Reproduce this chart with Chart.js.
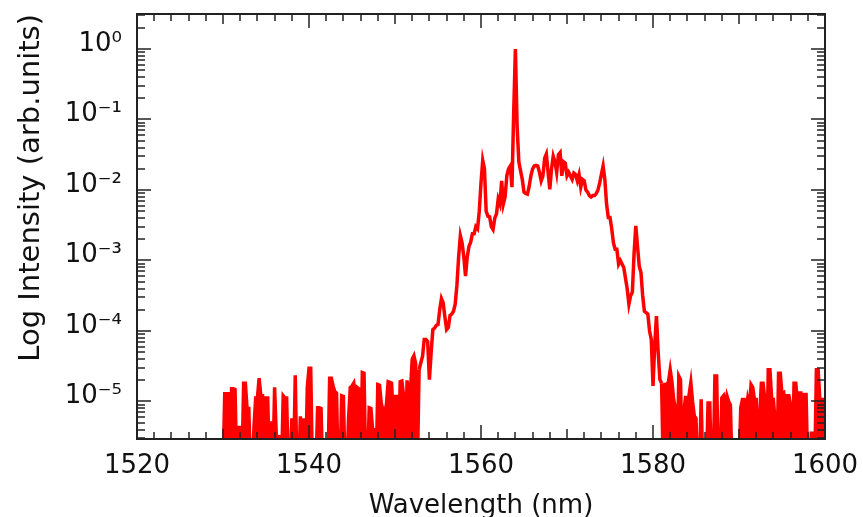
<!DOCTYPE html>
<html>
<head>
<meta charset="utf-8">
<script src="https://cdn.jsdelivr.net/npm/chart.js@4.4.1/dist/chart.umd.min.js"></script>
<style>
  html, body { margin: 0; padding: 0; background: #fff; }
</style>
</head>
<body>
<canvas id="spectrum" width="863" height="517"></canvas>
<script>
// sampling of the measured spectrum (nm)
const sampleStep = 0.2;

// log10 of intensity, one row per nm (x.0 x.2 x.4 x.6 x.8); -6 = below noise floor
const noiseLeftStart = 1530;
const noiseLeftLog = [
  -6, -4.89, -4.89, -4.89, -6,
  -4.82, -4.82, -4.83, -6, -5.37,
  -5.37, -6, -4.74, -4.74, -5.1,
  -5.1, -6, -6, -5.37, -4.95,
  -4.95, -4.67, -4.92, -4.92, -6,
  -4.95, -4.95, -6, -5.28, -6,
  -4.8, -5.5, -5.5, -5.5, -6,
  -4.92, -4.95, -4.95, -6, -6,
  -5.24, -6, -4.63, -6, -6,
  -5.21, -6, -5.24, -6, -4.8,
  -4.53, -4.53, -6, -6, -6,
  -5.09, -5.09, -5.1, -6, -6,
  -6, -6, -4.67, -4.67, -4.78,
  -4.86, -4.88, -6, -6, -4.92,
  -4.93, -6, -6, -5.24, -4.8,
  -4.78, -4.74, -5.0, -4.8, -4.82,
  -6, -4.59, -4.6, -6, -6,
  -5.09, -5.1, -5.4, -5.4, -6,
  -4.76, -4.77, -5.02, -5.13, -5.14,
  -5.05, -4.72, -4.73, -4.74, -5.24,
  -4.93, -4.93, -6, -4.72, -4.71,
  -4.92, -6, -4.7, -4.95, -4.85,
  -4.4, -4.35, -4.46, -6, -4.55
];

const bandStart = 1553;
const bandLog = [
  -4.45, -4.36, -4.12, -4.12, -4.15,
  -4.69, -4.31, -3.98, -3.96, -3.92,
  -3.91, -3.7, -3.54, -3.6, -3.8,
  -3.98, -3.95, -3.78, -3.76, -3.72,
  -3.62, -3.35, -2.95, -2.65, -2.75,
  -2.95, -3.22, -2.95, -2.8, -2.74,
  -2.62, -2.62, -2.52, -2.55, -2.3,
  -1.9, -1.58, -1.7, -2.3, -2.37,
  -2.38, -2.52, -2.56, -2.4, -2.34,
  -2.13, -2.2, -1.87, -2.2, -2.1,
  -1.8, -1.7, -1.66, -1.96, -0.9,
  0.0, -1.1, -1.6, -1.73, -1.85,
  -2.03, -2.05, -2.06, -1.95, -1.8,
  -1.7, -1.66, -1.65, -1.66, -1.75,
  -1.87, -1.8, -1.55, -1.49, -1.75,
  -1.99, -1.7, -1.52, -1.6, -1.75,
  -1.5, -1.47, -1.8, -1.6, -1.62,
  -1.8, -1.75, -1.8, -1.85, -1.76,
  -1.78, -1.87, -1.78, -1.96, -1.85,
  -1.87, -2.0, -2.03, -2.08, -2.1,
  -2.08, -2.08, -2.05, -2.0, -1.9,
  -1.78, -1.66, -1.85, -2.2, -2.39,
  -2.39, -2.55, -2.75, -2.84, -2.84,
  -3.05, -3.0, -3.05, -3.1, -3.25,
  -3.4, -3.62, -3.5, -3.45, -2.9,
  -2.51, -2.8, -3.08, -3.17, -3.5,
  -3.72, -3.74, -3.76, -4.0, -4.12,
  -4.78, -4.2, -3.79, -4.3, -4.69,
  -4.74
];

const noiseRightStart = 1581.2;
const noiseRightLog = [
          -6, -4.76, -4.76, -4.72,
  -4.55, -4.72, -4.97, -5.09, -6,
  -4.64, -4.69, -6, -5.13, -4.92,
  -5.26, -4.9, -4.73, -5.0, -5.2,
  -5.24, -6, -6, -4.97, -6,
  -6, -6, -5.02, -5.02, -6,
  -6, -4.64, -4.64, -6, -6,
  -4.95, -4.92, -5.1, -4.92, -5.0,
  -5.05, -6, -6, -6, -6,
  -6, -5.09, -4.97, -4.97, -5.15,
  -4.97, -5.1, -4.76, -4.8, -4.97,
  -4.97, -6, -5.2, -4.74, -4.74,
  -4.97, -6, -4.55, -4.55, -4.97,
  -4.97, -5.28, -6, -4.6, -4.6,
  -4.9, -4.88, -5.13, -4.92, -4.92,
  -5.05, -6, -4.74, -4.74, -5.02,
  -4.88, -4.88, -5.13, -4.9, -4.9,
  -6, -6, -5.45, -5.45, -6,
  -4.55, -4.55, -4.97, -4.97, -4.97,
  -4.97
];

const xTickLabels = [1520, 1540, 1560, 1580, 1600];
const yDecades = [-5, -4, -3, -2, -1, 0];

const axisColor = '#222';
const lineColor = '#ff0000';
const fontFamily = '"DejaVu Sans", sans-serif';

const toPoints = (start, logs) =>
  logs.map((v, i) => ({ x: start + i * sampleStep, y: Math.pow(10, v) }));

const spectrum = [
  ...toPoints(noiseLeftStart, noiseLeftLog),
  ...toPoints(bandStart, bandLog),
  ...toPoints(noiseRightStart, noiseRightLog),
];

// the noise-floor stretches are so densely sampled that they read as solid red
const bandEnd = bandStart + (bandLog.length - 1) * sampleStep;
const inNoise = (x) => x < bandStart - 0.01 || x > bandEnd - 0.01;

const sup = { '0': '⁰', '1': '¹', '2': '²', '3': '³', '4': '⁴', '5': '⁵', '-': '⁻' };
const isDecade = (v) => Math.abs(Math.log10(v) - Math.round(Math.log10(v))) < 1e-6;

// inward ticks on all four sides plus the closed frame
const frameTicks = {
  id: 'frameTicks',
  afterDraw(chart) {
    const { ctx, chartArea: a, scales: { x, y } } = chart;
    ctx.save();
    ctx.strokeStyle = axisColor;
    ctx.lineWidth = 1.5;
    ctx.beginPath();
    for (let v = x.min; v <= x.max; v += 2) {
      const px = Math.round(x.getPixelForValue(v));
      const len = v % 20 === 0 ? 14 : v % 10 === 0 ? 10 : 7;
      ctx.moveTo(px, a.bottom); ctx.lineTo(px, a.bottom - len);
      ctx.moveTo(px, a.top); ctx.lineTo(px, a.top + len);
    }
    for (let e = -6; e <= 0; e++) {
      for (let m = 1; m <= 9; m++) {
        const v = m * Math.pow(10, e);
        if (v < y.min || v > y.max) continue;
        const py = Math.round(y.getPixelForValue(v));
        const len = m === 1 ? 14 : 8;
        ctx.moveTo(a.left, py); ctx.lineTo(a.left + len, py);
        ctx.moveTo(a.right, py); ctx.lineTo(a.right - len, py);
      }
    }
    ctx.stroke();
    ctx.lineWidth = 2;
    ctx.strokeRect(a.left, a.top, a.right - a.left, a.bottom - a.top);
    ctx.restore();
  }
};

new Chart(document.getElementById('spectrum'), {
  type: 'line',
  data: {
    datasets: [{
      data: spectrum,
      borderColor: lineColor,
      backgroundColor: lineColor,
      borderWidth: 3.5,
      pointRadius: 0,
      tension: 0,
      clip: 0,
      fill: 'start',
      segment: {
        backgroundColor: (c) =>
          inNoise(c.p0.parsed.x) && inNoise(c.p1.parsed.x) ? lineColor : 'rgba(0,0,0,0)',
      },
    }]
  },
  options: {
    responsive: false,
    animation: false,
    layout: { padding: { top: 14, right: 38, left: 0, bottom: 0 } },
    plugins: { legend: { display: false }, tooltip: { enabled: false } },
    scales: {
      x: {
        type: 'linear',
        min: 1520,
        max: 1600,
        grid: { display: false, drawTicks: false },
        border: { display: false },
        ticks: {
          stepSize: 20,
          autoSkip: false,
          maxRotation: 0,
          padding: 12,
          color: '#111',
          font: { family: fontFamily, size: 26 },
          callback: (v) => (xTickLabels.includes(v) ? String(v) : ''),
        },
        title: {
          display: true,
          text: 'Wavelength (nm)',
          color: '#111',
          font: { family: fontFamily, size: 26 },
          padding: { top: 0, bottom: -5 },
        },
        afterFit: (s) => {
          s.height = 78;
          s.paddingLeft = 0;
          s.paddingRight = 0;
        },
      },
      y: {
        type: 'logarithmic',
        min: Math.pow(10, -5.532),
        max: Math.pow(10, 0.496),
        grid: { display: false, drawTicks: false },
        border: { display: false },
        ticks: {
          autoSkip: false,
          padding: 15,
          labelOffset: -5,
          color: '#111',
          font: { family: fontFamily, size: 26 },
          callback: (v) => {
            if (!isDecade(v)) return '';
            const e = Math.round(Math.log10(v));
            if (!yDecades.includes(e)) return '';
            return '10' + String(e).split('').map((c) => sup[c]).join('');
          },
        },
        title: {
          display: true,
          text: 'Log Intensity (arb.units)',
          align: 'end',
          color: '#111',
          font: { family: fontFamily, size: 29 },
          padding: { top: 14, bottom: 0 },
        },
        afterFit: (s) => {
          s.width = 137;
          s.paddingTop = 0;
          s.paddingBottom = 0;
        },
      },
    },
  },
  plugins: [frameTicks],
});
</script>
</body>
</html>
